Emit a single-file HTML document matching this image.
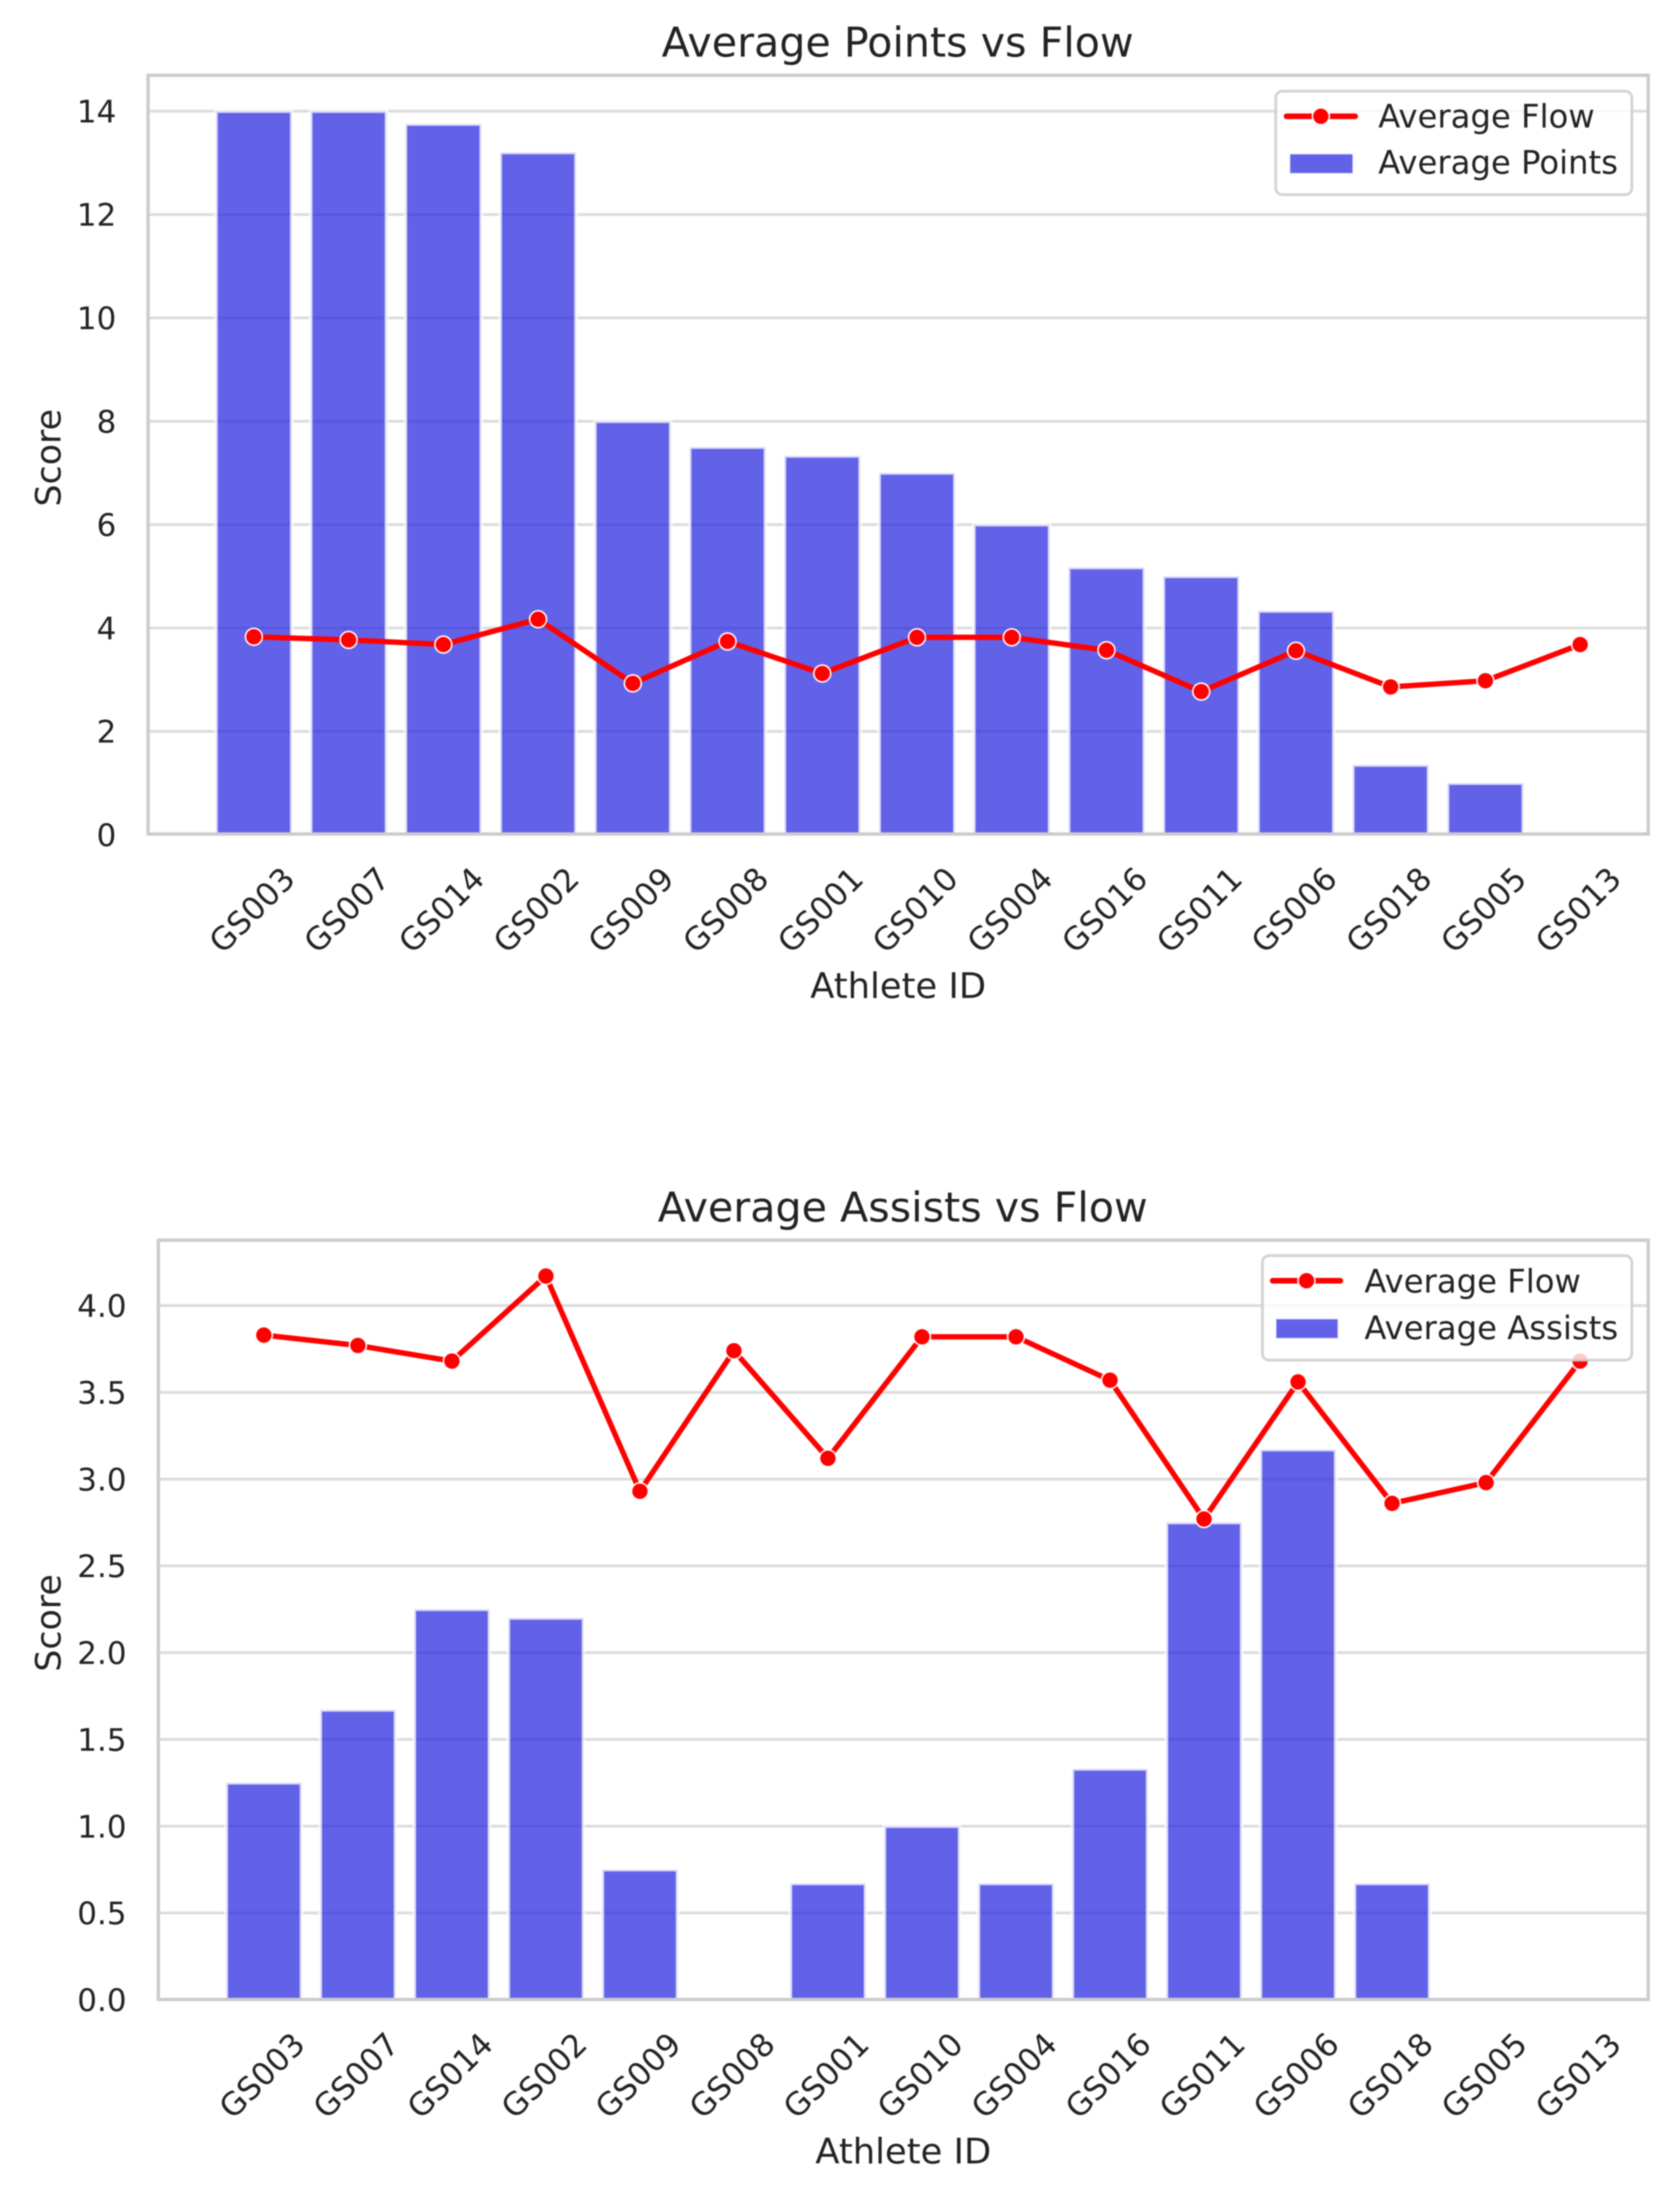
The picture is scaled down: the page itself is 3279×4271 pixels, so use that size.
<!DOCTYPE html>
<html lang="en">
<head>
<meta charset="utf-8">
<title>Average Points and Assists vs Flow</title>
<style>
  html, body { margin: 0; padding: 0; background: #ffffff; }
  body { width: 3279px; height: 4271px; overflow: hidden; }
  svg { display: block; filter: blur(1.2px); }
  text { font-family: "DejaVu Sans", "Liberation Sans", sans-serif; fill: #222222; }
</style>
</head>
<body>
<svg id="figure" xmlns="http://www.w3.org/2000/svg" width="3279" height="4271" viewBox="0 0 3279 4271">
  <rect x="0" y="0" width="3279" height="4271" fill="#ffffff"/>
  <g id="chart-points"></g>
  <g id="chart-assists"></g>
</svg>
<script>
var athleteIds = ['GS003','GS007','GS014','GS002','GS009','GS008','GS001','GS010','GS004','GS016','GS011','GS006','GS018','GS005','GS013'];
var averagePoints = [14, 14, 13.75, 13.2, 8, 7.5, 7.33, 7, 6, 5.17, 5, 4.33, 1.35, 1, 0];
var averageAssists = [1.25, 1.67, 2.25, 2.2, 0.75, 0, 0.67, 1, 0.67, 1.33, 2.75, 3.17, 0.67, 0, 0];
var averageFlow = [3.83, 3.77, 3.68, 4.17, 2.93, 3.74, 3.12, 3.82, 3.82, 3.57, 2.77, 3.56, 2.86, 2.98, 3.68];
var pointTicks = [0, 2, 4, 6, 8, 10, 12, 14];
var pointTickLabels = ['0', '2', '4', '6', '8', '10', '12', '14'];
var assistTicks = [0, 0.5, 1, 1.5, 2, 2.5, 3, 3.5, 4];
var assistTickLabels = ['0.0', '0.5', '1.0', '1.5', '2.0', '2.5', '3.0', '3.5', '4.0'];

var NS = 'http://www.w3.org/2000/svg';

function make(parent, tag, attrs, text) {
  var el = document.createElementNS(NS, tag);
  for (var k in attrs) { el.setAttribute(k, attrs[k]); }
  if (text !== undefined) { el.textContent = text; }
  parent.appendChild(el);
  return el;
}

function drawChart(root, g, barValues, flowValues, ticks, tickLabels, barName) {
  var xScale = function (i) { return g.x0 + g.step * i; };
  var yScale = function (v) { return g.y0 - g.unit * v; };
  var i, el;

  // grid
  for (i = 0; i < ticks.length; i++) {
    if (ticks[i] === 0) { continue; }
    el = make(root, 'line', { x1: g.left, x2: g.right, y1: yScale(ticks[i]), y2: yScale(ticks[i]), stroke: '#dcdcdc', 'stroke-width': 5.5 });
    
    
  }

  // bars
  var barHalf = g.step * 0.4;
  for (i = 0; i < barValues.length; i++) {
    if (barValues[i] <= 0) { continue; }
    el = make(root, 'rect', {
      x: xScale(i) - barHalf,
      y: yScale(barValues[i]),
      width: barHalf * 2,
      height: yScale(0) - yScale(barValues[i]),
      fill: '#2020df',
      'fill-opacity': 0.7,
      stroke: '#ffffff',
      'stroke-opacity': 0.75,
      'stroke-width': 7
    });
    
    
  }

  // spines
  el = make(root, 'rect', { x: g.left, y: g.top, width: g.right - g.left, height: g.bottom - g.top, fill: 'none', stroke: '#cccccc', 'stroke-width': 6.5 });
  
  

  // flow line
  var pts = [];
  for (i = 0; i < flowValues.length; i++) {
    pts.push(xScale(i) + ',' + yScale(flowValues[i]));
  }
  el = make(root, 'polyline', { points: pts.join(' '), fill: 'none', stroke: '#ff0000', 'stroke-width': 10.5, 'stroke-linejoin': 'round', 'stroke-linecap': 'round' });
  
  

  for (i = 0; i < flowValues.length; i++) {
    el = make(root, 'circle', { cx: xScale(i), cy: yScale(flowValues[i]), r: 16.5, fill: '#ff0000', stroke: '#ffffff', 'stroke-width': 3 });
    
    
  }

  // y tick labels
  for (i = 0; i < ticks.length; i++) {
    el = make(root, 'text', { x: g.left - 62, y: yScale(ticks[i]) + 22, 'text-anchor': 'end', 'font-size': 60.5 }, tickLabels[i]);
    
    
  }

  // x tick labels
  for (i = 0; i < athleteIds.length; i++) {
    var cx = xScale(i) - 4;
    var cy = g.bottom + 148;
    el = make(root, 'text', { x: cx, y: cy + 22, 'text-anchor': 'middle', 'font-size': 61.6, transform: 'rotate(-45 ' + cx + ' ' + cy + ')' }, athleteIds[i]);
    
    
  }

  // title and axis titles
  var mid = (g.left + g.right) / 2;
  el = make(root, 'text', { x: mid - 1, y: g.top - 36.5, 'text-anchor': 'middle', 'font-size': 80.4 }, g.title);
  
  

  el = make(root, 'text', { x: mid, y: g.bottom + 320, 'text-anchor': 'middle', 'font-size': 69 }, 'Athlete ID');
  
  

  var ly = (g.top + g.bottom) / 2 + 6;
  el = make(root, 'text', { x: 118, y: ly, 'text-anchor': 'middle', 'font-size': 68, transform: 'rotate(-90 118 ' + ly + ')' }, 'Score');
  
  

  // legend
  var lg = g.legend;
  var legend = make(root, 'g', {});
  
  

  el = make(legend, 'rect', { x: lg.left, y: lg.top, width: lg.right - lg.left, height: lg.bottom - lg.top, rx: 13, ry: 13, fill: '#ffffff', 'fill-opacity': 0.8, stroke: '#cccccc', 'stroke-opacity': 0.85, 'stroke-width': 5.5 });
  
  

  el = make(legend, 'line', { x1: lg.lineX1, x2: lg.lineX2, y1: lg.lineY, y2: lg.lineY, stroke: '#ff0000', 'stroke-width': 11, 'stroke-linecap': 'round' });
  
  

  el = make(legend, 'circle', { cx: (lg.lineX1 + lg.lineX2) / 2, cy: lg.lineY, r: 16.5, fill: '#ff0000', stroke: '#ffffff', 'stroke-width': 3 });
  
  

  el = make(legend, 'rect', { x: lg.patchX, y: lg.patchY, width: lg.patchW, height: lg.patchH, fill: '#2020df', 'fill-opacity': 0.7, stroke: '#ffffff', 'stroke-opacity': 0.75, 'stroke-width': 3 });
  
  

  el = make(legend, 'text', { x: lg.textX, y: lg.text1Y, 'font-size': 63 }, 'Average Flow');
  
  

  el = make(legend, 'text', { x: lg.textX, y: lg.text2Y, 'font-size': 63 }, barName);
  
  
}

drawChart(document.getElementById('chart-points'), {
  title: 'Average Points vs Flow',
  left: 289, right: 3217, top: 147, bottom: 1628,
  x0: 495.5, step: 184.9, y0: 1629.5, unit: 100.9,
  legend: { left: 2490, right: 3185, top: 178, bottom: 380, lineX1: 2511, lineX2: 2645, lineY: 227, patchX: 2517, patchY: 300, patchW: 124, patchH: 39, textX: 2690, text1Y: 249, text2Y: 339 }
}, averagePoints, averageFlow, pointTicks, pointTickLabels, 'Average Points');

drawChart(document.getElementById('chart-assists'), {
  title: 'Average Assists vs Flow',
  left: 309, right: 3217, top: 2421, bottom: 3903,
  x0: 515, step: 183.5, y0: 3903.5, unit: 338.75,
  legend: { left: 2464, right: 3185, top: 2451, bottom: 2655, lineX1: 2484, lineX2: 2616, lineY: 2500, patchX: 2490, patchY: 2574, patchW: 122, patchH: 39, textX: 2663, text1Y: 2523, text2Y: 2614 }
}, averageAssists, averageFlow, assistTicks, assistTickLabels, 'Average Assists');
</script>
</body>
</html>
